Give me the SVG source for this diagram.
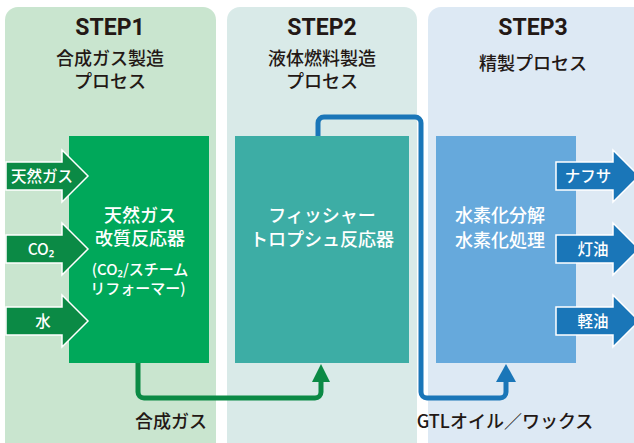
<svg xmlns="http://www.w3.org/2000/svg" width="634" height="443" viewBox="0 0 634 443">
<style>
text{font-family:"Noto Sans CJK JP","Noto Sans",sans-serif;text-anchor:middle;font-weight:500}
.h{font-family:Roboto,"Noto Sans",sans-serif;font-weight:bold;font-size:23px;fill:#231815}
.s{font-size:18px;fill:#231815}
.w{font-size:18px;fill:#fff}
.ws{font-size:15px;fill:#fff}
.al{font-size:15.5px;fill:#fff}
.in{fill:#0b8a45;stroke:#fff;stroke-width:1.5}
.out{fill:#1a76b8;stroke:#fff;stroke-width:1.5}
</style>
<rect width="634" height="443" fill="#fff"/>
<g id="panel1"><rect x="5" y="7" width="211" height="460" rx="13" fill="#c9e5cf"/>
<text class="h" x="110" y="35">STEP1</text>
<text class="s" x="110" y="65">合成ガス製造</text>
<text class="s" x="110" y="88">プロセス</text></g>
<g id="panel2"><rect x="227" y="7" width="190" height="460" rx="13" fill="#d9eae8"/>
<text class="h" x="322" y="35">STEP2</text>
<text class="s" x="322" y="65">液体燃料製造</text>
<text class="s" x="322" y="88">プロセス</text></g>
<g id="panel3"><rect x="428" y="7" width="220" height="460" rx="13" fill="#dde9f4"/>
<text class="h" x="533" y="35">STEP3</text>
<text class="s" x="533" y="70">精製プロセス</text></g>

<g id="connectors" fill="none" stroke-width="5" stroke-linejoin="round">
<path d="M138 363 V392 a6 6 0 0 0 6 6 H315 a6 6 0 0 0 6 -6 V380" stroke="#0b8a45"/>
<path d="M312 382 L321 364 L330 382 Z" fill="#0b8a45" stroke="none"/>
<path d="M318 136 V123 a6 6 0 0 1 6 -6 H415 a6 6 0 0 1 6 6 V392 a6 6 0 0 0 6 6 H500 a6 6 0 0 0 6 -6 V380" stroke="#1a76b8"/>
<path d="M496 382 L506 364 L516 382 Z" fill="#1a76b8" stroke="none"/>
</g>

<g id="box1"><rect x="69" y="136" width="140" height="227" fill="#00a85a"/>
<text class="w" x="140" y="222">天然ガス</text>
<text class="w" x="140" y="245">改質反応器</text>
<text class="ws" x="140" y="275">(CO₂/スチーム</text>
<text class="ws" x="138" y="294">リフォーマー)</text></g>
<g id="box2"><rect x="235" y="136" width="174" height="227" fill="#3dada5"/>
<text class="w" x="322" y="222">フィッシャー</text>
<text class="w" x="322" y="246">トロプシュ反応器</text></g>
<g id="box3"><rect x="436" y="136" width="140" height="227" fill="#66a9dc"/>
<text class="w" x="500" y="222">水素化分解</text>
<text class="w" x="500" y="247">水素化処理</text></g>

<g id="in1"><path class="in" d="M6 162 H62 V150 L88 176 L62 202 V190 H6 Z"/><text class="al" x="42" y="182">天然ガス</text></g>
<g id="in2"><path class="in" d="M6 235 H62 V223 L88 249 L62 275 V263 H6 Z"/><text class="al" x="41" y="255">CO₂</text></g>
<g id="in3"><path class="in" d="M6 307 H62 V295 L88 321 L62 347 V335 H6 Z"/><text class="al" x="43" y="327">水</text></g>

<g id="out1"><path class="out" d="M556 162 H613 V150 L639 176 L613 202 V190 H556 Z"/><text class="al" x="588" y="182">ナフサ</text></g>
<g id="out2"><path class="out" d="M556 235 H613 V223 L639 249 L613 275 V263 H556 Z"/><text class="al" x="593" y="255">灯油</text></g>
<g id="out3"><path class="out" d="M556 307 H613 V295 L639 321 L613 347 V335 H556 Z"/><text class="al" x="593" y="327">軽油</text></g>

<text class="s" x="171" y="428">合成ガス</text>
<text class="s" x="505" y="428">GTLオイル／ワックス</text>
</svg>
